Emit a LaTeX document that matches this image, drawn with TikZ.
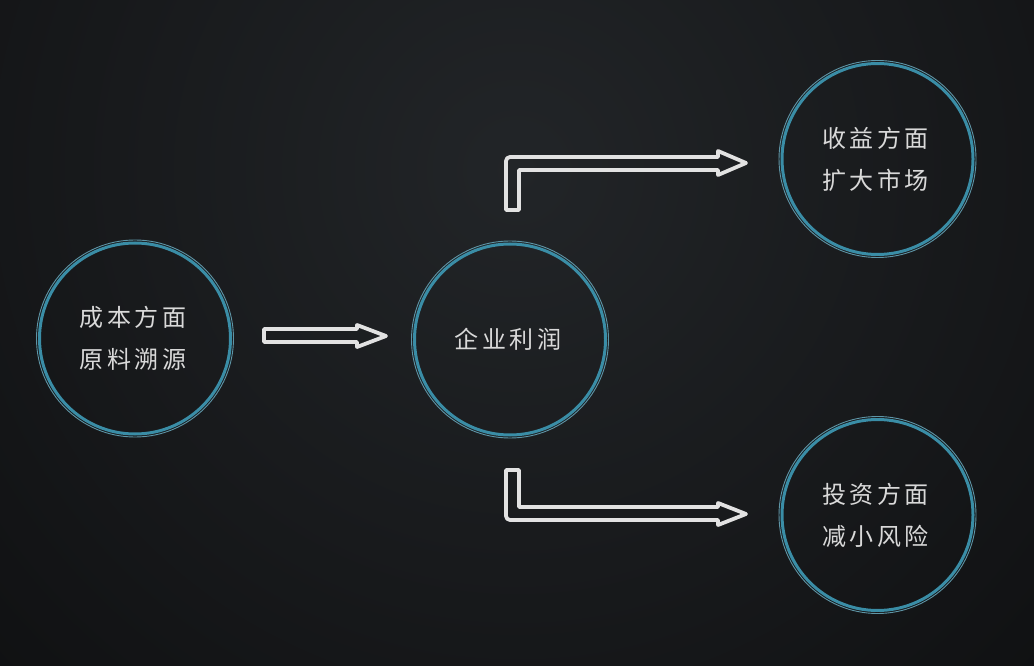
\documentclass[tikz,border=0pt]{standalone}
\usepackage{fontspec}
\newfontfamily\cjk[LetterSpace=15]{Noto Sans CJK SC}
\definecolor{bgtop}{HTML}{222528}
\definecolor{bgedge}{HTML}{080809}
\definecolor{ring}{HTML}{3A8DA6}
\definecolor{ringthin}{HTML}{5E95A6}
\definecolor{txt}{HTML}{D9D9D9}
\definecolor{arr}{HTML}{E2E2E2}
\tikzset{
  ringnode/.style={circle, minimum size=191*0.75pt, inner sep=0pt, draw=ring, line width=3*0.75pt,
     text=txt, align=center, font=\cjk\fontsize{18}{31.5}\selectfont},
  thinring/.style={draw=ringthin, line width=0.9*0.75pt},
  blockarrow/.style={draw=arr, line width=3.8*0.75pt, line join=round, fill=none},
}
\begin{document}
\begin{tikzpicture}[x=0.75pt,y=-0.75pt]
\useasboundingbox (0,0) rectangle (1034,666);
\begin{scope}
\clip (0,0) rectangle (1034,666);
\fill[bgedge] (0,0) rectangle (1034,666);
\shade[inner color=bgtop, outer color=bgedge] (517,170) circle (1050);
\end{scope}
% circles
\node[ringnode] (cost) at (135,338.5) {\hspace*{-3pt}成本方面\\\hspace*{-3pt}原料溯源};
\node[ringnode] (profit) at (510,339.5) {\hspace*{-3pt}企业利润};
\node[ringnode] (income) at (877.5,159) {\hspace*{-3pt}收益方面\\\hspace*{-3pt}扩大市场};
\node[ringnode] (invest) at (877.5,515) {\hspace*{-3pt}投资方面\\\hspace*{-3pt}减小风险};
\foreach \n in {cost,profit,income,invest}{
  \draw[thinring] (\n.center) circle (98.5);
}
% block arrows
\draw[blockarrow] (264,329) -- (357,329) -- (357,325) -- (386,336) -- (357,347) -- (357,342) -- (264,342) -- cycle;
\draw[blockarrow] (506,210) -- (506,161) [rounded corners=3] -- (506,157) [sharp corners] -- (718,157) -- (718,151) -- (746,163) -- (718,175) -- (718,170) -- (519,170) -- (519,210) -- cycle;
\draw[blockarrow] (506,470) -- (519,470) -- (519,507) -- (718,507) -- (718,503) -- (746,514) -- (718,525) -- (718,520) [rounded corners=3] -- (506,520) [sharp corners] -- cycle;
\end{tikzpicture}
\end{document}
